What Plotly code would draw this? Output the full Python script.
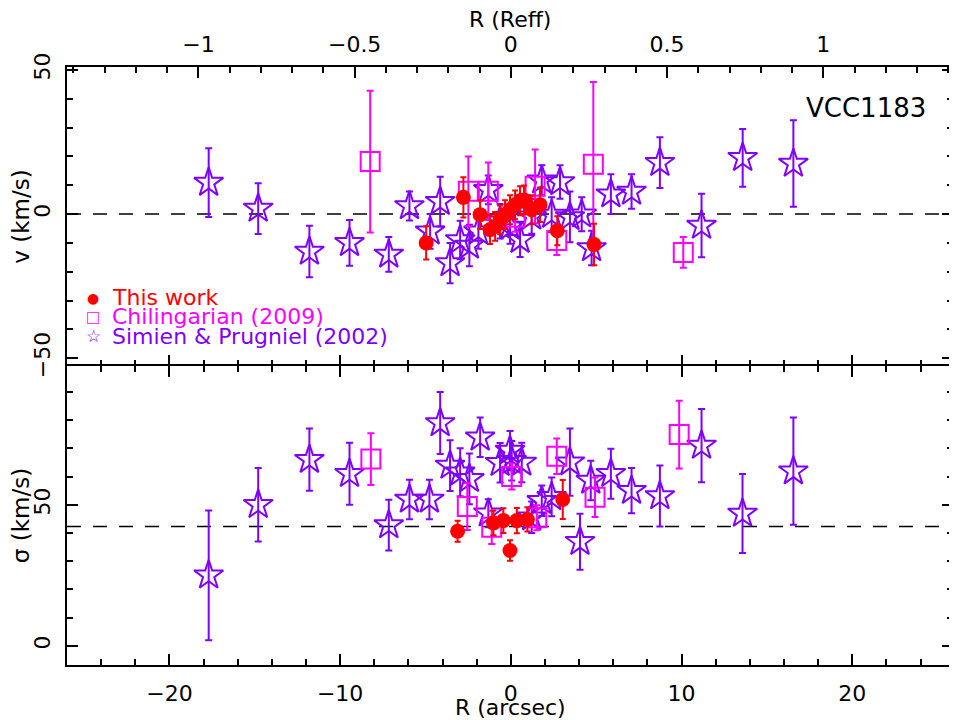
import plotly.graph_objects as go

# ---------------- data ----------------
R_EFF_ARCSEC = 18.3          # 1 Reff in arcsec (top axis)
V_REF = 0.0                  # dashed reference line, top panel
SIGMA_REF = 42.3             # dashed reference line, bottom panel
GALAXY = "VCC1183"

# This work
tw_v_r = [-4.96, -2.78, -1.8, -1.22, -0.92, -0.63, -0.34, -0.05, 0.25, 0.54, 0.77, 1.22, 1.71, 2.72, 4.87]
tw_v = [-10.0, 5.8, -0.2, -5.4, -4.3, -2.0, -0.2, 1.5, 3.2, 4.6, 4.9, 1.5, 3.2, -5.8, -10.6]
tw_v_err = [5.8, 7.0, 5.0, 5.0, 5.0, 5.0, 5.0, 5.0, 5.0, 5.0, 5.0, 5.0, 6.0, 5.0, 7.2]
tw_s_r = [-3.12, -1.02, -0.44, -0.05, 0.35, 0.97, 3.04]
tw_s = [40.6, 43.6, 44.4, 33.8, 44.4, 44.8, 51.9]
tw_s_err = [3.7, 4.4, 4.4, 3.6, 4.5, 4.3, 6.9]

# Chilingarian (2009)
ch_v_r = [-8.24, -2.49, -1.32, 0.25, 1.42, 2.69, 4.83, 10.1]
ch_v = [18.2, 7.9, 7.9, -1.1, 9.6, -9.2, 17.3, -13.3]
ch_v_err = [24.6, 12.1, 10.0, 5.0, 12.8, 5.0, 28.5, 5.3]
ch_s_r = [-8.2, -2.55, -1.12, 0.05, 1.52, 2.69, 4.93, 9.86]
ch_s = [66.2, 49.4, 42.0, 60.0, 45.4, 67.2, 52.7, 74.9]
ch_s_err = [9.2, 8.3, 5.9, 4.6, 4.4, 6.3, 7.0, 12.0]

# Simien & Prugniel (2002)
sp_v_r = [-17.7, -14.8, -11.8, -9.45, -7.15, -5.94, -4.14, -4.73, -3.56, -2.97, -2.43, -1.32, -1.9, -0.63,
          -0.05, 0.54, 1.22, 1.81, 2.88, 2.39, 3.46, 4.15, 4.73, 5.86, 7.07, 8.73, 11.17, 13.58, 16.55]
sp_v = [10.9, 1.9, -13.0, -10.0, -14.0, 2.8, 4.3, -6.0, -17.0, -9.0, -10.9, 8.4, -6.0, -2.5,
        -4.3, -8.9, -0.8, 11.7, 11.1, -0.2, -1.0, -0.1, -11.8, 6.9, 7.8, 17.8, -4.0, 19.5, 17.5]
sp_v_err = [11.9, 8.8, 8.9, 7.9, 6.0, 5.0, 8.6, 6.0, 7.0, 6.7, 7.2, 5.0, 6.0, 6.0,
            6.0, 6.0, 6.0, 5.2, 5.8, 6.0, 8.8, 5.9, 6.0, 6.9, 6.0, 8.8, 11.0, 10.0, 15.0]
sp_s_r = [-17.7, -14.8, -11.8, -9.45, -7.15, -5.94, -4.77, -4.14, -3.56, -2.97, -2.43, -1.8, -1.32, -0.63,
          -0.05, 0.05, 0.64, 1.22, 1.81, 2.39, 3.46, 4.05, 4.68, 5.86, 7.07, 8.73, 11.17, 13.57, 16.55]
sp_s = [25.0, 50.0, 66.0, 61.0, 42.8, 51.9, 51.9, 79.0, 63.9, 61.5, 59.2, 73.9, 47.0, 64.9,
        69.2, 65.6, 65.0, 45.6, 51.4, 52.8, 65.1, 36.9, 58.6, 61.0, 55.0, 53.1, 71.0, 46.9, 61.9]
sp_s_err = [23, 13, 11, 11, 9, 7, 7, 11, 9, 8.5, 9, 7, 5, 7,
            7, 7, 7, 5.6, 5.4, 6.9, 11.9, 9.9, 7, 8.9, 8, 10.8, 13, 14, 19]

legend_labels = ["This work", "Chilingarian (2009)", "Simien & Prugniel (2002)"]
legend_glyphs = ["\u25CF", "\u25A1", "\u2606"]

X_RANGE = [-26.0, 25.9]
V_RANGE = [-52.7, 51.0]
S_RANGE = [-6.8, 99.2]

# ---------------- style ----------------
RED = "#ff0000"
MAG = "#ff00ff"
PUR = "#8000ff"
FONT = "DejaVu Sans"
colors = [RED, MAG, PUR]

fig = go.Figure()


def add_series(xs, ys, errs, xa, ya, symbol, size, color, lw, ew, cap):
    fig.add_trace(go.Scatter(
        x=xs, y=ys, xaxis=xa, yaxis=ya, mode="markers", showlegend=False,
        marker=dict(symbol=symbol, size=size, color=color, line=dict(width=lw, color=color)),
        error_y=dict(type="data", array=errs, visible=True, color=color, thickness=ew, width=cap),
        hoverinfo="skip",
    ))


# stars first, then squares, then red points on top
add_series(sp_v_r, sp_v, sp_v_err, "x", "y", "star-open", 22, PUR, 2, 2, 3.5)
add_series(sp_s_r, sp_s, sp_s_err, "x2", "y2", "star-open", 22, PUR, 2, 2, 3.5)
add_series(ch_v_r, ch_v, ch_v_err, "x", "y", "square-open", 19, MAG, 2, 2, 3.5)
add_series(ch_s_r, ch_s, ch_s_err, "x2", "y2", "square-open", 19, MAG, 2, 2, 3.5)
add_series(tw_v_r, tw_v, tw_v_err, "x", "y", "circle", 15, RED, 0, 2, 3)
add_series(tw_s_r, tw_s, tw_s_err, "x2", "y2", "circle", 15, RED, 0, 2, 3)

# invisible trace to keep the top Reff axis alive
fig.add_trace(go.Scatter(x=[X_RANGE[0] / R_EFF_ARCSEC], y=[V_RANGE[0]], xaxis="x3", yaxis="y",
                         mode="markers", marker=dict(opacity=0), showlegend=False, hoverinfo="skip"))

axis_common = dict(
    showline=True, linecolor="black", linewidth=2, ticks="inside", tickcolor="black",
    tickwidth=2, ticklen=11, showgrid=False, zeroline=False, automargin=False,
    tickfont=dict(family=FONT, size=22, color="black"),
)
minor_common = dict(ticks="inside", ticklen=6, tickwidth=2, tickcolor="black")

# the page body adds an 8 px offset, so the figure is 8 px smaller and margins shifted
fig.update_layout(
    width=949, height=712,
    margin=dict(l=59, r=4, t=59, b=55),
    paper_bgcolor="white", plot_bgcolor="white",
    showlegend=False,
    xaxis=dict(axis_common, domain=[0, 1], anchor="y", range=X_RANGE, tick0=0, dtick=10,
               showticklabels=False, showline=False,
               minor=dict(minor_common, dtick=2)),
    xaxis2=dict(axis_common, domain=[0, 1], anchor="y2", range=X_RANGE, tick0=0, dtick=10,
                mirror="ticks", ticklabelstandoff=8,
                minor=dict(minor_common, dtick=2)),
    xaxis3=dict(axis_common, overlaying="x", side="top", anchor="y",
                range=[X_RANGE[0] / R_EFF_ARCSEC, X_RANGE[1] / R_EFF_ARCSEC],
                tickvals=[-1, -0.5, 0, 0.5, 1], ticktext=["\u22121", "\u22120.5", "0", "0.5", "1"],
                ticklabelstandoff=4,
                minor=dict(minor_common, dtick=0.1, tick0=0)),
    yaxis=dict(axis_common, domain=[0.5, 1], anchor="x", range=V_RANGE, tickvals=[-50, 0, 50],
               mirror="ticks", tickangle=-90, ticklabelstandoff=6,
               minor=dict(minor_common, dtick=10, tick0=0),
               title=dict(text="v (km/s)", font=dict(family=FONT, size=23, color="black"), standoff=11)),
    yaxis2=dict(axis_common, domain=[0, 0.5], anchor="x2", range=S_RANGE, tickvals=[0, 50],
                mirror="ticks", tickangle=-90, ticklabelstandoff=6,
                minor=dict(minor_common, dtick=10, tick0=0),
                title=dict(text="\u03c3 (km/s)", font=dict(family=FONT, size=23, color="black"), standoff=11)),
)

# x titles as annotations (they sit tight against the tick labels, as in the reference)
fig.add_annotation(text="R (arcsec)", xref="paper", yref="paper", x=0.5, y=-0.071, xanchor="center",
                   yanchor="middle", showarrow=False, font=dict(family=FONT, size=22, color="black"))
fig.add_annotation(text="R (Reff)", xref="paper", yref="paper", x=0.5, y=1.0786, xanchor="center",
                   yanchor="middle", showarrow=False, font=dict(family=FONT, size=22, color="black"))

# dashed reference lines
fig.add_shape(type="line", xref="x domain", yref="y", x0=0, x1=1, y0=V_REF, y1=V_REF,
              line=dict(color="black", width=1.6, dash="14px,12px"), layer="below")
fig.add_shape(type="line", xref="x2 domain", yref="y2", x0=0, x1=1, y0=SIGMA_REF, y1=SIGMA_REF,
              line=dict(color="black", width=1.6, dash="14px,12px"), layer="below")

# galaxy label
fig.add_annotation(text=GALAXY, xref="paper", yref="paper", x=0.9715, y=0.932, xanchor="right",
                   yanchor="middle", showarrow=False, font=dict(family=FONT, size=26, color="black"))

# legend built from annotations
legend_y = [0.614, 0.582, 0.550]
glyph_sizes = [14, 15, 17]
for lab, gl, col, yy, gs in zip(legend_labels, legend_glyphs, colors, legend_y, glyph_sizes):
    fig.add_annotation(text=gl, xref="paper", yref="paper", x=0.0297, y=yy, xanchor="center",
                       yanchor="middle", showarrow=False, font=dict(family=FONT, size=gs, color=col))
    fig.add_annotation(text=lab, xref="paper", yref="paper", x=0.049, y=yy, xanchor="left",
                       yanchor="middle", showarrow=False, font=dict(family=FONT, size=22, color=col))

fig.write_html("out.html")
